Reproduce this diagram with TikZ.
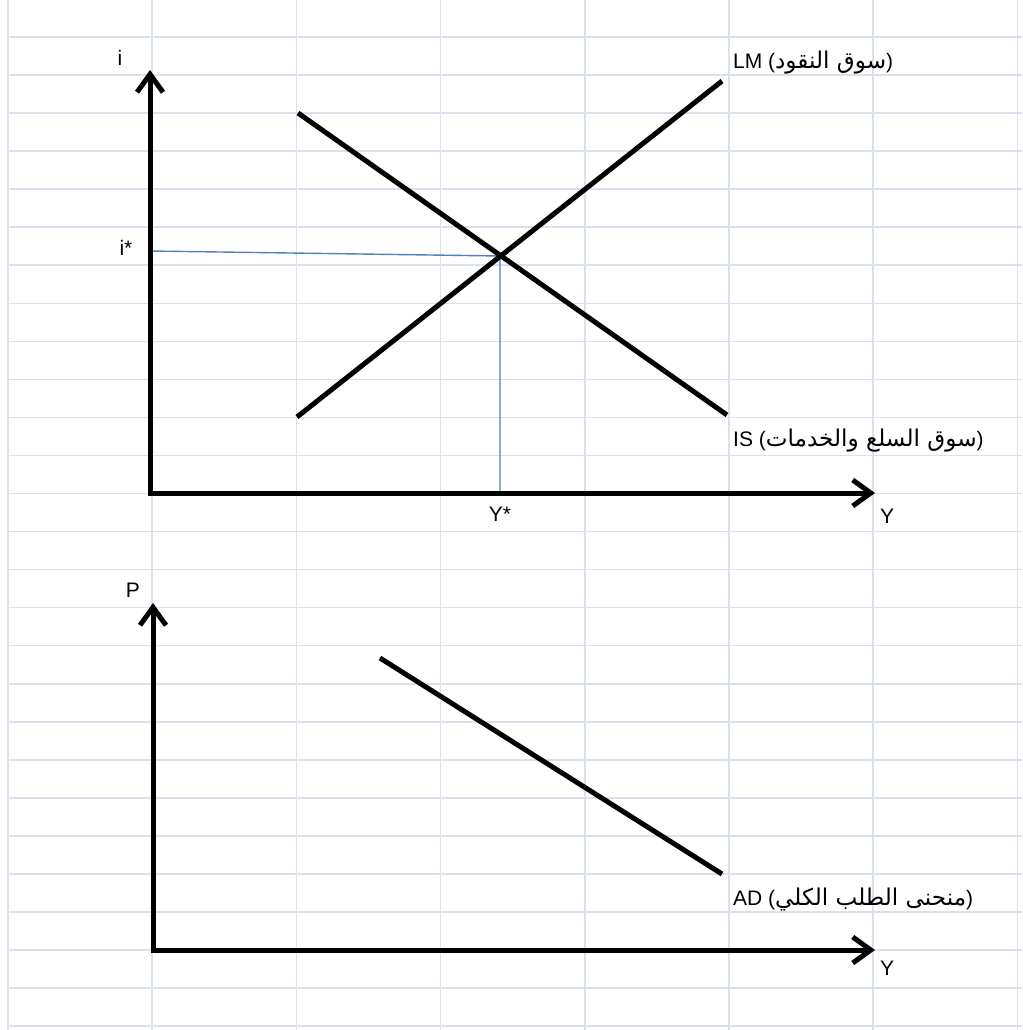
\documentclass[tikz,border=0pt]{standalone}
\usepackage{fontspec}
\setmainfont{Liberation Sans}
\newfontfamily\arabicfont[Script=Arabic,Scale=1.1]{DejaVu Sans}
\TeXXeTstate=1
\usetikzlibrary{arrows.meta}

\definecolor{gridblue}{RGB}{218,224,236}
\definecolor{guideblue}{RGB}{79,129,189}

\begin{document}
\begin{tikzpicture}[
  x=1pt, y=-1pt,
  font=\fontsize{21}{24}\selectfont,
  % Spreadsheet cell lines
  gridln/.style={draw=gridblue, line width=1.6pt},
  % Axis pair with open arrow heads
  axis/.style={{Straight Barb[length=18pt,width=26pt]}-{Straight Barb[length=18pt,width=26pt]},
               line width=5pt},
  % Market curves
  curve/.style={line width=5pt},
  % Equilibrium guide lines
  guide/.style={draw=guideblue, line width=1.4pt},
  lbl/.style={inner sep=0pt},
  arlbl/.style={inner sep=0pt, anchor=west}
]
\useasboundingbox[fill=white] (0,0) rectangle (1022,1030);

% ── Grid ───────────────────────────────────────────────────────────────────
\foreach \k in {0,...,7}
  \draw[gridln] ({8+144.2*\k},0) -- ({8+144.2*\k},1030);
\foreach \k in {0,...,27}
  \draw[gridln] (8,{-1+38.04*\k}) -- (1022,{-1+38.04*\k});

% ── IS-LM panel ────────────────────────────────────────────────────────────
\coordinate (O1)    at (150,493);
\coordinate (itip)  at (150,70);
\coordinate (ytip)  at (875,493);
\coordinate (isA)   at (298,113);
\coordinate (isB)   at (727,415);
\coordinate (lmA)   at (297,417);
\coordinate (lmB)   at (722,81);
\coordinate (E)     at (500,256);
\coordinate (istar) at (150,251);
\coordinate (ystar) at (500,493);

\draw[guide] (istar) -- (E) -- (ystar);
\draw[curve] (isA) -- (isB);
\draw[curve] (lmA) -- (lmB);
\draw[axis]  (itip) -- (O1) -- (ytip);

\node[lbl] (ilab)  at (120,58)  {i};
\node[lbl] (islab) at (126,248) {i*};
\node[lbl] (ylab)  at (887,516) {Y};
\node[lbl] (yslab) at (500,514) {Y*};
\node[arlbl] (lmlab) at (733,63)
  {LM ({\arabicfont\beginR سوق النقود\endR})};
\node[arlbl] (islab2) at (733,441)
  {IS ({\arabicfont\beginR سوق السلع والخدمات\endR})};

% ── AD panel ───────────────────────────────────────────────────────────────
\coordinate (O2)    at (153,950);
\coordinate (ptip)  at (153,603);
\coordinate (y2tip) at (875,950);
\coordinate (adA)   at (380,658);
\coordinate (adB)   at (722,874);

\draw[curve] (adA) -- (adB);
\draw[axis]  (ptip) -- (O2) -- (y2tip);

\node[lbl] (plab)  at (133,590) {P};
\node[lbl] (y2lab) at (887,968) {Y};
\node[arlbl] (adlab) at (733,900)
  {AD ({\arabicfont\beginR منحنى الطلب الكلي\endR})};

\end{tikzpicture}
\end{document}
